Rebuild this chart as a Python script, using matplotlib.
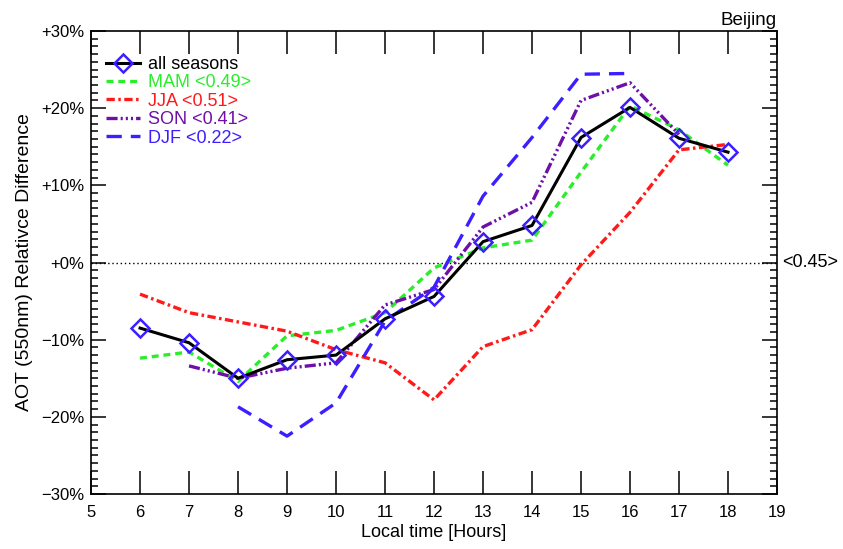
import matplotlib
matplotlib.use("Agg")
import matplotlib.pyplot as plt
from matplotlib.ticker import FixedLocator, MultipleLocator, FuncFormatter

plt.rcParams["font.family"] = ["Liberation Sans", "DejaVu Sans"]
plt.rcParams["lines.scale_dashes"] = False

# hourly relative AOT differences (percent)
hours_all = [6, 7, 8, 9, 10, 11, 12, 13, 14, 15, 16, 17, 18]
all_seasons = [-8.5, -10.4, -15.0, -12.6, -12.0, -7.3, -4.4, 2.7, 4.8, 16.2, 20.1, 16.1, 14.3]
mam = [-12.4, -11.6, -15.4, -9.5, -8.8, -6.5, -0.7, 1.9, 2.9, 11.7, 20.3, 17.2, 12.6]
jja = [-4.1, -6.5, -7.7, -8.9, -11.3, -13.0, -17.8, -10.9, -8.7, -0.3, 6.5, 14.6, 15.3]
hours_son = [7, 8, 9, 10, 11, 12, 13, 14, 15, 16, 17]
son = [-13.4, -15.0, -13.7, -13.0, -5.5, -3.5, 4.6, 7.8, 21.0, 23.3, 16.6]
hours_djf = [8, 9, 10, 11, 12, 13, 14, 15, 16]
djf = [-18.7, -22.5, -18.2, -7.6, -3.2, 8.6, 16.2, 24.4, 24.5]

labels = ["all seasons", "MAM <0.49>", "JJA <0.51>", "SON <0.41>", "DJF <0.22>"]
overall_ratio = "<0.45>"
station = "Beijing"

BLACK = "#000000"
GREEN = "#2aee2a"
RED = "#ff1a1a"
PURPLE = "#6f0fa8"
BLUE = "#3b1fff"

fig = plt.figure(figsize=(8.43, 5.49), dpi=100)
ax = fig.add_axes([0.108, 0.1002, 0.8137, 0.8433])

ax.axhline(0, color="black", lw=1.0, ls=(0, (1, 2)), zorder=1)

ax.plot(hours_all, mam, color=GREEN, lw=2.4, ls=(0, (5, 3.5)), label=labels[1], zorder=3)
ax.plot(hours_all, jja, color=RED, lw=2.4, ls=(0, (6, 2.5, 1.8, 2.5)), label=labels[2], zorder=3)
ax.plot(hours_son, son, color=PURPLE, lw=2.4,
        ls=(0, (8, 2.2, 1.5, 2.2, 1.5, 2.2, 1.5, 2.2)), label=labels[3], zorder=3)
ax.plot(hours_djf, djf, color=BLUE, lw=2.4, ls=(0, (11, 6.5)), label=labels[4], zorder=3)
ax.plot(hours_all, all_seasons, color=BLACK, lw=2.2, marker="D", ms=9,
        mfc="none", mec=BLUE, mew=1.8, label=labels[0], zorder=4)

ax.set_xlim(5, 19)
ax.set_ylim(-30, 30)
ax.xaxis.set_major_locator(MultipleLocator(1))
ax.yaxis.set_major_locator(FixedLocator([-30, -20, -10, 0, 10, 20, 30]))
ax.yaxis.set_minor_locator(MultipleLocator(1))


def pct(v, _pos):
    if v < 0:
        return "\u2212%d%%" % abs(v)
    return "+%d%%" % v


ax.yaxis.set_major_formatter(FuncFormatter(pct))
ax.tick_params(axis="both", which="both", direction="in", top=True, right=True,
               width=1.1, labelsize=12)
ax.tick_params(axis="x", which="major", length=16.5, pad=8)
ax.tick_params(axis="y", which="major", length=10.5, pad=5)
ax.tick_params(axis="y", which="minor", length=5)
for sp in ax.spines.values():
    sp.set_linewidth(1.2)

ax.set_xlabel("Local time [Hours]", fontsize=13, labelpad=3)
ax.set_ylabel("AOT (550nm) Relativce Difference", fontsize=14, labelpad=6)

ax.text(1.0, 1.005, station, transform=ax.transAxes, ha="right", va="bottom", fontsize=13.5)
ax.text(1.008, 0.0, overall_ratio, transform=ax.get_yaxis_transform(),
        ha="left", va="center", fontsize=13)

handles, names = ax.get_legend_handles_labels()
order = [4, 0, 1, 2, 3]
leg = ax.legend([handles[i] for i in order], [names[i] for i in order],
                loc="upper left", bbox_to_anchor=(0.012, 0.962), frameon=False,
                fontsize=13, handlelength=1.85, handletextpad=0.45,
                labelspacing=0.08, borderaxespad=0)
for text, line in zip(leg.get_texts(), leg.get_lines()):
    text.set_color(line.get_color())

fig.savefig("out.png", dpi=100)
